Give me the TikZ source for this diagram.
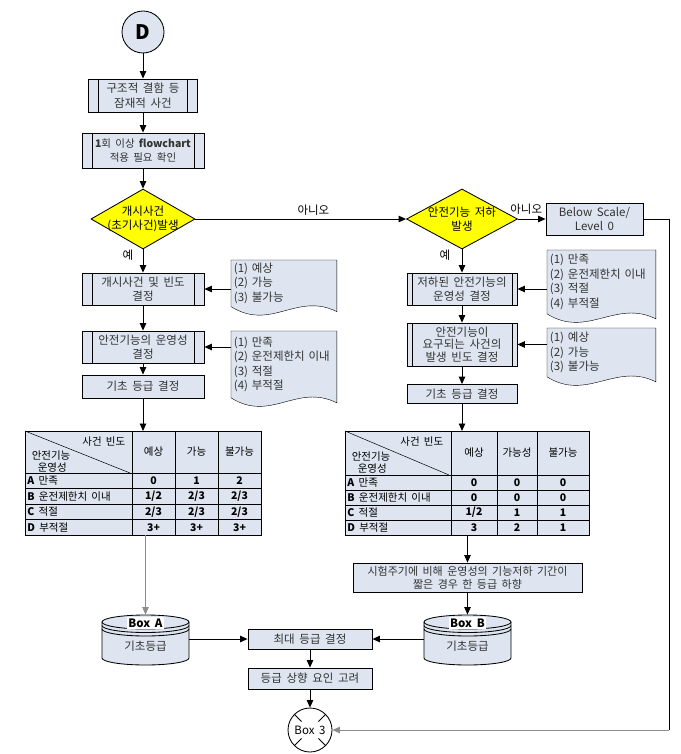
\documentclass[tikz,border=0pt]{standalone}
\usepackage{fontspec}
\setmainfont{Noto Sans CJK KR}[WordSpace=1.8]
\usetikzlibrary{shapes.geometric,arrows.meta,backgrounds}
\definecolor{boxfill}{RGB}{222,229,240}
\definecolor{yesno}{RGB}{255,255,0}

\begin{document}
\begin{tikzpicture}[x=1pt,y=-1pt,line width=0.85pt,
    font=\fontsize{11.5}{14.5}\selectfont,
    >={Triangle[width=6.5pt,length=7.5pt]},
    flow/.style={draw,fill=boxfill,align=center,inner sep=1pt,text=black!80},
    proc/.style={flow,path picture={
      \draw ([xshift=#1]path picture bounding box.north west) -- ([xshift=#1]path picture bounding box.south west)
            ([xshift=-#1]path picture bounding box.north east) -- ([xshift=-#1]path picture bounding box.south east);}},
    proc/.default=10pt,
    ask/.style={diamond,draw,fill=yesno,inner sep=0pt},
    note/.style={anchor=north west,align=left,inner sep=2.5pt,text=black!80},
    drum/.style={minimum width=87pt,minimum height=50pt,inner sep=0pt,text=black!80},
    link/.style={->},
    faint/.style={->,black!45}]
  \useasboundingbox (0,0) rectangle (680,754);

  % Start and screening
  \node[circle,draw,fill=boxfill,minimum size=42pt,inner sep=0pt,font=\fontsize{20}{20}\selectfont\bfseries] (start) at (143,32) {D};
  \node[proc,minimum width=109pt,minimum height=33pt] (latent) at (143,95.5) {구조적 결함 등\\잠재적 사건};
  \node[proc,minimum width=122pt,minimum height=35pt,font=\fontsize{10.5}{14.5}\selectfont] (check) at (143,150.5) {\textbf{1}회 이상 \textbf{flowchart}\\적용 필요 확인};
  \node[ask,minimum width=104pt,minimum height=60pt,label={[align=center]center:개시사건\\(초기사건)발생}] (init) at (143,219) {};
  \node[ask,minimum width=111pt,minimum height=60pt,label={[align=center]center:안전기능 저하\\발생}] (degrade) at (462,219) {};
  \node[flow,minimum width=97pt,minimum height=32pt] (below) at (594.5,219) {Below Scale/\\Level 0};

  % Initiating event branch
  \node[proc,minimum width=122pt,minimum height=32pt] (freq) at (143,289) {개시사건 및 빈도\\결정};
  \node[note,text width=100pt,minimum height=42pt] (freqopt) at (231,260) {(1) 예상\\(2) 가능\\(3) 불가능};
  \node[proc,minimum width=122pt,minimum height=32pt] (oper) at (143,347) {안전기능의 운영성\\결정};
  \node[note,text width=100pt,minimum height=66pt] (operopt) at (231,331) {(1) 만족\\(2) 운전제한치 이내\\(3) 적절\\(4) 부적절};
  \node[flow,minimum width=122pt,minimum height=23pt] (baseL) at (143,386.5) {기초 등급 결정};

  % Degraded function branch
  \node[proc=5pt,minimum width=110pt,minimum height=32pt] (degoper) at (462,289) {저하된 안전기능의\\운영성 결정};
  \node[note,text width=103pt,minimum height=63pt] (degopt) at (547,250) {(1) 만족\\(2) 운전제한치 이내\\(3) 적절\\(4) 부적절};
  \node[proc=5pt,minimum width=110pt,minimum height=43pt,font=\fontsize{11.5}{12.8}\selectfont] (demand) at (462,344.5) {안전기능이\\요구되는 사건의\\발생 빈도 결정};
  \node[note,text width=103pt,minimum height=48pt] (demopt) at (547,328) {(1) 예상\\(2) 가능\\(3) 불가능};
  \node[flow,minimum width=110pt,minimum height=19pt] (baseR) at (462,394) {기초 등급 결정};

  % Option sheets
  \begin{scope}[on background layer]
    \foreach \n in {freqopt,operopt,degopt,demopt}
      \filldraw[fill=boxfill] (\n.north west) -- (\n.north east) -- ([yshift=-5pt]\n.south east)
        .. controls +(-40,-20) and +(40,25) .. (\n.south west) -- cycle;
  \end{scope}

  % Left grade table
  \begin{scope}[shift={(25,431)},font=\fontsize{10.5}{12}\selectfont]
    \filldraw[fill=boxfill] (0,0) rectangle (236,104);
    \draw[line width=0.5pt] (0,0) -- (105,42);
    \foreach \x in {107,150,193} \draw (\x,0) -- (\x,104);
    \foreach \y in {42,57.5,73,88.5} \draw (0,\y) -- (236,\y);
    \node[anchor=east] (lhF) at (104,11) {사건 빈도};
    \node[anchor=west] (lhS) at (3,25) {안전기능};
    \node[anchor=west] (lhO) at (9,37) {운영성};
    \foreach \t [count=\c] in {예상,가능,불가능}
      \node (lh\c) at (85.5+43*\c,21) {\t};
    \foreach \l/\t [count=\r] in {A/만족,B/운전제한치 이내,C/적절,D/부적절}
      \node[anchor=west,inner sep=1pt] (lr\r) at (1,34.25+15.5*\r) {\textbf{\l} \t};
    \foreach \row [count=\r] in {{0,1,2},{1/2,2/3,2/3},{2/3,2/3,2/3},{3+,3+,3+}}
      \foreach \v [count=\c] in \row
        \node (lv\r\c) at (lh\c |- lr\r) {\textbf{\v}};
    \coordinate (tabL-in) at (118,0);
    \coordinate (tabL-out) at (120.5,104);
  \end{scope}

  % Right grade table
  \begin{scope}[shift={(345,431)},font=\fontsize{10.5}{12}\selectfont]
    \filldraw[fill=boxfill] (0,0) rectangle (244,104);
    \draw[line width=0.5pt] (0,0) -- (104,44);
    \foreach \x in {106,152,192} \draw (\x,0) -- (\x,104);
    \foreach \y in {44,59,74,89} \draw (0,\y) -- (244,\y);
    \node[anchor=east] (rhF) at (102,11) {사건 빈도};
    \node[anchor=west] (rhS) at (3,26) {안전기능};
    \node[anchor=west] (rhO) at (9,38) {운영성};
    \foreach \t/\cx [count=\c] in {예상/129,가능성/172,불가능/218}
      \node (rh\c) at (\cx,22) {\t};
    \foreach \l/\t [count=\r] in {A/만족,B/운전제한치 이내,C/적절,D/부적절}
      \node[anchor=west,inner sep=1pt] (rr\r) at (1,36.5+15*\r) {\textbf{\l} \t};
    \foreach \row [count=\r] in {{0,0,0},{0,0,0},{1/2,1,1},{3,2,1}}
      \foreach \v [count=\c] in \row
        \node (rv\r\c) at (rh\c |- rr\r) {\textbf{\v}};
    \coordinate (tabR-in) at (117,0);
    \coordinate (tabR-out) at (122.5,104);
  \end{scope}

  % Final grading
  \node[flow,minimum width=229pt,minimum height=29pt,font=\fontsize{11}{13}\selectfont] (test) at (467.5,577.5) {시험주기에 비해 운영성의 기능저하 기간이\\짧은 경우 한 등급 하향};
  \foreach \nm/\cx/\ttl in {boxA/145.5/Box A,boxB/467.5/Box B} {
    \begin{scope}[shift={(\cx,640)}]
      \filldraw[fill=boxfill] (-43.5,-18) -- (-43.5,18)
        arc[start angle=180,end angle=360,x radius=43.5pt,y radius=7pt] -- (43.5,-18)
        arc[start angle=0,end angle=180,x radius=43.5pt,y radius=7pt] -- cycle;
      \foreach \d in {0,3.5,7}
        \draw (-43.5,\d-18) arc[start angle=180,end angle=360,x radius=43.5pt,y radius=7pt];
      \node[fill=white,inner sep=1.5pt] (\nm-title) at (0,-17) {\textbf{\ttl}};
    \end{scope}
    \node[drum] (\nm) at (\cx,640) {\raisebox{-10pt}[0pt][0pt]{기초등급}};
  }
  \node[flow,minimum width=124pt,minimum height=20pt] (maxgrade) at (310,639) {최대 등급 결정};
  \node[flow,minimum width=124pt,minimum height=21pt] (upgrade) at (310,678.5) {등급 상향 요인 고려};
  \node[circle,draw,fill=white,minimum size=44pt,inner sep=0pt] (box3) at (310,730) {Box 3};
  \foreach \a in {45,135,225,315}
    \draw ([shift={(\a:12pt)}]box3.center) -- (box3.\a);
  \coordinate (turn) at (669,730);

  % Connectors
  \draw[link] (start) -- (latent);
  \draw[link] (latent) -- (check);
  \draw[link] (check) -- (init);
  \draw[link] (init) -- node[above,pos=0.56] {아니오} (degrade);
  \draw[link] (degrade) -- node[above=1pt,pos=0.3] {아니오} (below);
  \draw[link] (init) -- node[left=6pt,pos=0.25] {예} (freq);
  \draw[link] (degrade) -- node[left=8pt,pos=0.25] {예} (degoper);
  \draw[link] (freqopt.west |- freq.east) -- (freq.east);
  \draw[link] (operopt.west |- oper.east) -- (oper.east);
  \draw[link] (degopt.west |- degoper.east) -- (degoper.east);
  \draw[link] (demopt.west |- demand.east) -- (demand.east);
  \draw[link] (freq) -- (oper);
  \draw[link] (oper) -- (baseL);
  \draw[link] (baseL) -- (tabL-in);
  \draw[link] (degoper) -- (demand);
  \draw[link] (demand) -- (baseR);
  \draw[link] (baseR) -- (tabR-in);
  \draw[faint] (tabL-out) -- (boxA);
  \draw[link] (tabR-out) -- (test);
  \draw[link] (test) -- (boxB);
  \draw[link] (boxA.east |- maxgrade) -- (maxgrade);
  \draw[link] (boxB.west |- maxgrade) -- (maxgrade);
  \draw[link] (maxgrade) -- (upgrade);
  \draw[link] (upgrade) -- (box3);
  \draw (below.east) -| (turn);
  \draw[faint] (turn) -- (box3);
\end{tikzpicture}
\end{document}
